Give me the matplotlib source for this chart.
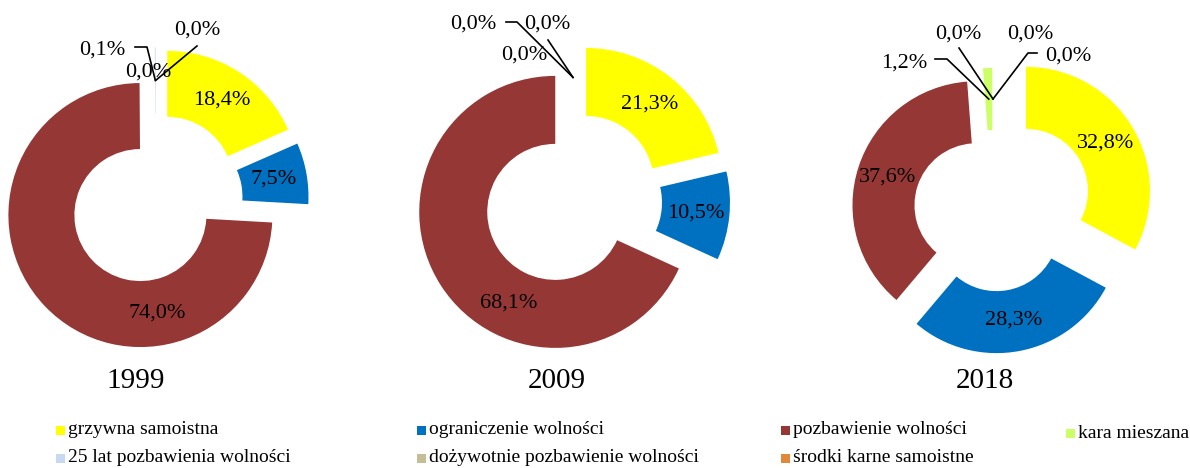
import numpy as np
import matplotlib
matplotlib.use("Agg")
import matplotlib.pyplot as plt
from matplotlib.patches import Rectangle

# data
categories = ["grzywna samoistna", "ograniczenie wolności", "pozbawienie wolności",
              "kara mieszana", "25 lat pozbawienia wolności",
              "dożywotnie pozbawienie wolności", "środki karne samoistne"]
colors = ["#FFFF00", "#0070C0", "#953735", "#CCFF66", "#C6D9F1", "#C4BD97", "#E0883C"]

years = ["1999", "2009", "2018"]
values_1999 = [18.4, 7.5, 74.0, None, 0.1, 0.0, 0.0]
values_2009 = [21.3, 10.5, 68.1, None, 0.0, 0.0, 0.0]
values_2018 = [32.8, 28.3, 37.6, 1.2, 0.0, 0.0, 0.0]

W, H = 1190, 468
FONT = "Liberation Serif"


def fmt(v):
    return f"{v:.1f}".replace(".", ",") + "%"


# layout in image pixels (y measured from the top)
charts = [
    dict(values=values_1999, center=(155.7, 200.5), radius=132,
         explode=[0.16] * 7, label_angle={2: -80},
         small=[(4, (102, 50), [(135, 47), (147, 47)]),
                (5, (148, 72), None),
                (6, (197, 30), [(197, 46)])],
         title_x=135.5),
    dict(values=values_2009, center=(573, 200.5), radius=136,
         explode=[0.155] * 7, label_angle={2: -117},
         small=[(4, (473, 24), [(506, 22), (517, 22)]),
                (5, (524, 55), None),
                (6, (547, 24), [(548, 40)])],
         title_x=557),
    dict(values=values_2018, center=(993, 210.6), radius=124,
         explode=[0.31, 0.152, 0.14, 0.15, 0.15, 0.15, 0.15], label_angle={},
         small=[(3, (904, 63), [(935, 59), (947, 59)]),
                (4, (958, 34), [(959, 48)]),
                (5, (1030, 34), None),
                (6, (1068, 56), [(1037, 53), (1028, 53)])],
         title_x=985),
]

fig = plt.figure(figsize=(W / 100, H / 100), dpi=100)
ax = fig.add_axes([0, 0, 1, 1])

for year, ch in zip(years, charts):
    vals = [0.0 if v is None else v for v in ch["values"]]
    R = ch["radius"]
    cx, cy = ch["center"]
    # pie's explode is in data units, so scale it by the radius
    wedges, _ = ax.pie(vals, explode=[e * R for e in ch["explode"]], colors=colors,
                       startangle=90, counterclock=False, center=(cx, H - cy),
                       radius=R, wedgeprops=dict(width=R * 0.5, linewidth=0))

    small_idx = [s[0] for s in ch["small"]]
    # labels on the ring for the big slices
    for i, (w, v) in enumerate(zip(wedges, vals)):
        if i in small_idx or v == 0:
            continue
        ang = ch["label_angle"].get(i, (w.theta1 + w.theta2) / 2)
        wx, wy = w.center
        r = R * 0.75
        ax.text(wx + r * np.cos(np.radians(ang)), wy + r * np.sin(np.radians(ang)),
                fmt(v), ha="center", va="center", fontsize=16, family=FONT)

    # small slices: labels outside with leader lines
    for i, (lx, ly), path in ch["small"]:
        w = wedges[i]
        ang = np.radians((w.theta1 + w.theta2) / 2)
        wx, wy = w.center
        ex, ey = wx + R * 0.75 * np.cos(ang), wy + R * 0.75 * np.sin(ang)
        ax.text(lx, H - ly, fmt(vals[i]), ha="center", va="center",
                fontsize=16, family=FONT)
        if path:
            xs = [p[0] for p in path] + [ex]
            ys = [H - p[1] for p in path] + [ey]
            ax.plot(xs, ys, color="black", lw=1.2)

    ax.text(ch["title_x"], H - 381, year, ha="center", va="center",
            fontsize=21, family=FONT)

# legend
legend_pos = [(56, 430), (417, 430), (781, 430), (1066, 433),
              (56, 458), (417, 458), (781, 458)]
for name, col, (x, y) in zip(categories, colors, legend_pos):
    ax.add_patch(Rectangle((x, H - y - 4.5), 9, 9, facecolor=col, edgecolor="none"))
    ax.text(x + 12, H - y, name, ha="left", va="center", fontsize=14, family=FONT)

ax.set_xlim(0, W)
ax.set_ylim(0, H)
ax.set_aspect("equal")
ax.axis("off")

fig.savefig("out.png", dpi=100)
